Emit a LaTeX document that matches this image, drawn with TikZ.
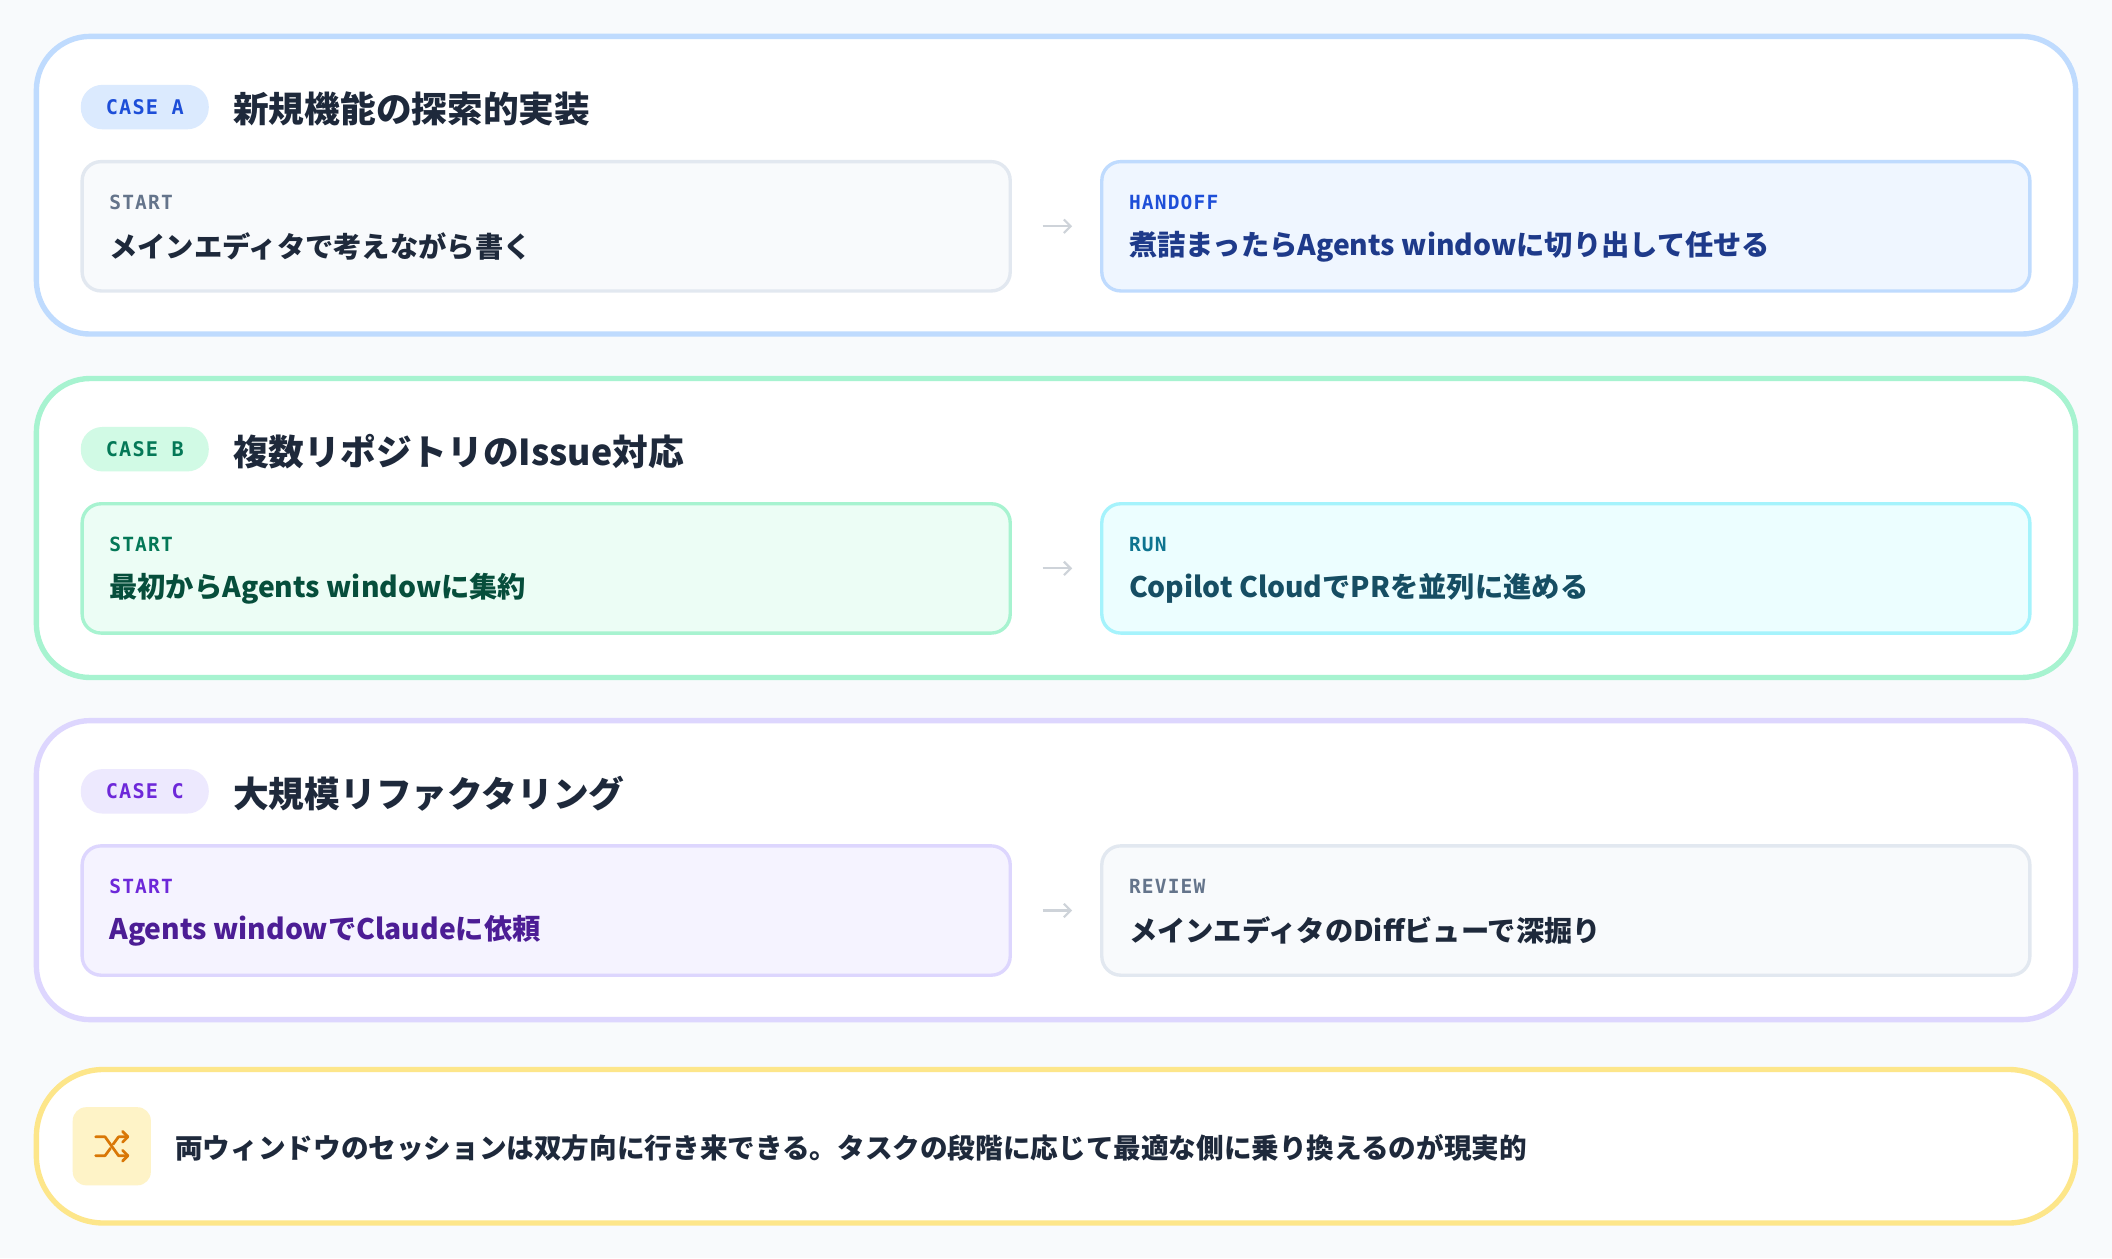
\documentclass[tikz,border=0pt]{standalone}
\usepackage{fontspec}
\setmainfont{Noto Sans CJK JP}
\newfontfamily\jp{Noto Sans CJK JP}[UprightFont={* Black},BoldFont={* Black}]
\newfontfamily\mono{DejaVu Sans Mono}[UprightFont={* Bold},LetterSpace=6]
\usetikzlibrary{arrows.meta}
\definecolor{bg}{HTML}{F8FAFC}
\definecolor{gb}{HTML}{E2E8F0}\definecolor{gf}{HTML}{F8FAFC}\definecolor{gl}{HTML}{64748B}\definecolor{gt}{HTML}{1E293B}
\definecolor{bb}{HTML}{BFDBFE}\definecolor{bf}{HTML}{EFF6FF}\definecolor{bl}{HTML}{1D4ED8}\definecolor{bt}{HTML}{1E3A8A}\definecolor{bbadge}{HTML}{DBEAFE}
\definecolor{eb}{HTML}{A7F3D0}\definecolor{ef}{HTML}{ECFDF5}\definecolor{el}{HTML}{047857}\definecolor{et}{HTML}{064E3B}\definecolor{ebadge}{HTML}{D1FAE5}
\definecolor{cb}{HTML}{A5F3FC}\definecolor{cf}{HTML}{ECFEFF}\definecolor{cl}{HTML}{0E7490}\definecolor{ct}{HTML}{164E63}
\definecolor{pb}{HTML}{DDD6FE}\definecolor{pf}{HTML}{F5F3FF}\definecolor{pl}{HTML}{6D28D9}\definecolor{pt}{HTML}{4C1D95}\definecolor{pbadge}{HTML}{EDE9FE}
\definecolor{yb}{HTML}{FDE68A}\definecolor{yf}{HTML}{FEF3C7}\definecolor{yi}{HTML}{D97706}
\tikzset{x=1pt,y=-1pt,
 card/.style={draw=#1,line width=4pt,fill=white,rounded corners=40pt},
 badge/.style={fill=#1,rounded corners=16pt,minimum width=95pt,minimum height=33pt,inner sep=0pt,font=\mono\fontsize{15}{15}\selectfont},
 title/.style={anchor=west,font=\jp\fontsize{26.5}{26.5}\selectfont,text=gt,inner sep=0pt},
 step/.style n args={2}{draw=#1,fill=#2,line width=2.5pt,rounded corners=14pt},
 lab/.style={anchor=west,inner sep=0pt,font=\mono\fontsize{14.5}{14.5}\selectfont},
 txt/.style={anchor=west,inner sep=0pt,font=\jp\fontsize{21}{21}\selectfont},
 arr/.style={-{Straight Barb[length=5pt,width=10pt]},draw=gb!80!gray,line width=1.6pt}}
\newcommand\stepbox[9]{% name x y border fill labcol label txtcol text
 \draw[step={#4}{#5}] (#2,#3) rectangle ++(689,96);
 \node[lab,text=#6] (#1l) at (#2+20,#3+30) {#7};
 \node[txt,text=#8] (#1t) at (#2+20,#3+63) {#9};}
\begin{document}
\begin{tikzpicture}
\fill[bg] (0,0) rectangle (1568,934);
\useasboundingbox (0,0) rectangle (1568,934);
% Card A
\draw[card=bb] (27,27) rectangle (1541,248);
\node[badge=bbadge,text=bl] (ba) at (107.5,79.5) {CASE A};
\node[title] (ta) at (173,81) {新規機能の探索的実装};
\stepbox{a1}{61}{120}{gb}{gf}{gl}{START}{gt}{メインエディタで考えながら書く}
\stepbox{a2}{818}{120}{bb}{bf}{bl}{HANDOFF}{bt}{煮詰まったらAgents windowに切り出して任せる}
\coordinate (aa1) at (774,168); \coordinate (aa2) at (796,168);
\draw[arr] (aa1) -- (aa2);
% Card B
\draw[card=eb] (27,281) rectangle (1541,503);
\node[badge=ebadge,text=el] (bbg) at (107.5,333.5) {CASE B};
\node[title] (tb) at (173,335) {複数リポジトリのIssue対応};
\stepbox{b1}{61}{374}{eb}{ef}{el}{START}{et}{最初からAgents windowに集約}
\stepbox{b2}{818}{374}{cb}{cf}{cl}{RUN}{ct}{Copilot CloudでPRを並列に進める}
\coordinate (ba1) at (774,422); \coordinate (ba2) at (796,422);
\draw[arr] (ba1) -- (ba2);
% Card C
\draw[card=pb] (27,535) rectangle (1541,757);
\node[badge=pbadge,text=pl] (bc) at (107.5,587.5) {CASE C};
\node[title] (tc) at (173,589) {大規模リファクタリング};
\stepbox{c1}{61}{628}{pb}{pf}{pl}{START}{pt}{Agents windowでClaudeに依頼}
\stepbox{c2}{818}{628}{gb}{gf}{gl}{REVIEW}{gt}{メインエディタのDiffビューで深掘り}
\coordinate (ca1) at (774,676); \coordinate (ca2) at (796,676);
\draw[arr] (ca1) -- (ca2);
% Footer
\draw[draw=yb,line width=4pt,fill=white,rounded corners=50pt] (27,794) rectangle (1541,908);
\fill[yf,rounded corners=10pt] (54,822) rectangle (112,880);
\begin{scope}[shift={(83,851)},draw=yi,line width=2pt,line cap=round,line join=round]
 \draw (-12,-7) -- (-5,-7) -- (5,7) -- (12,7);
 \draw (-12,7) -- (-5,7) -- (-1,1.5);
 \draw (1,-1.5) -- (5,-7) -- (12,-7);
 \draw (8,-11) -- (12,-7) -- (8,-3);
 \draw (8,3) -- (12,7) -- (8,11);
\end{scope}
\node[txt,text=gt,font=\jp\fontsize{20.5}{20.5}\selectfont] (ft) at (130,852) {両ウィンドウのセッションは双方向に行き来できる。タスクの段階に応じて最適な側に乗り換えるのが現実的};
\end{tikzpicture}
\end{document}
